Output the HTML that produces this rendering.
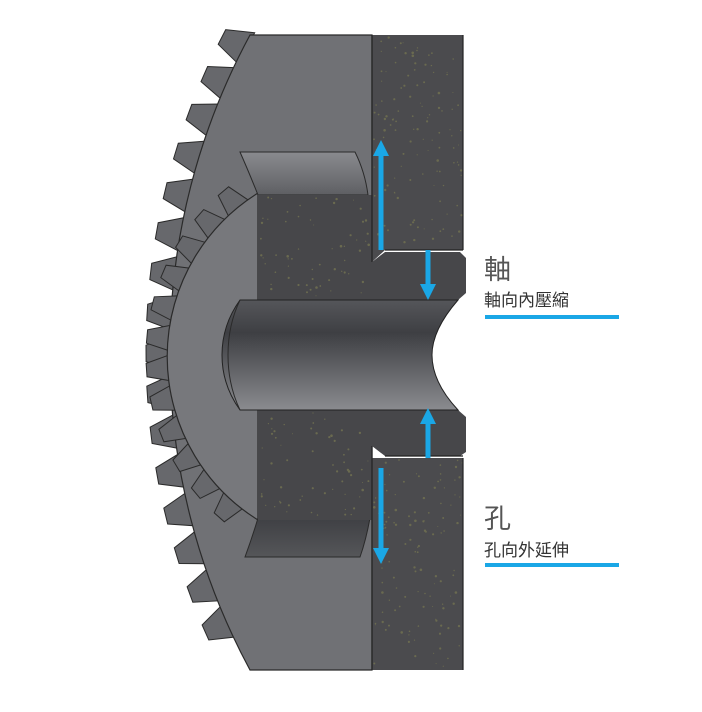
<!DOCTYPE html>
<html><head><meta charset="utf-8"><style>
html,body{margin:0;padding:0;background:#fff;width:702px;height:712px;overflow:hidden}
svg{display:block}
</style></head><body>
<svg id="s" width="702" height="712" viewBox="0 0 702 712" xmlns="http://www.w3.org/2000/svg">
<defs>
<linearGradient id="bore" x1="0" y1="0" x2="0" y2="1">
<stop offset="0" stop-color="#55565a"/><stop offset="0.3" stop-color="#3e3f43"/><stop offset="1" stop-color="#8a8b8f"/>
</linearGradient>
<linearGradient id="capT" x1="0" y1="0" x2="0" y2="1">
<stop offset="0" stop-color="#8a8b8f"/><stop offset="1" stop-color="#5e5f63"/>
</linearGradient>
<linearGradient id="capB" x1="0" y1="0" x2="0" y2="1">
<stop offset="0" stop-color="#3f4044"/><stop offset="1" stop-color="#555659"/>
</linearGradient>
</defs>
<g id="teeth"></g>
<!-- big disk -->
<path d="M250,35 A668,668 0 0 0 250,670 L372,670 L372,35 Z" fill="#707175" stroke="#2a2a2a" stroke-width="1.2"/>
<g id="teeth2"></g>
<!-- hub face -->
<path d="M258,193 A192.6,192.6 0 0 0 258,520 Z" fill="#77787c" stroke="#2a2a2a" stroke-width="1.2"/>
<!-- caps -->
<path d="M240,152 L355,152 Q365,172 368,195 L258,195 Q248,170 240,152 Z" fill="url(#capT)" stroke="#2a2a2a"/>
<path d="M258,518 L370,518 Q366,540 360,557 L245,557 Q252,538 258,518 Z" fill="url(#capB)" stroke="#2a2a2a"/>
<!-- dark hole body -->
<g>
<path d="M372,35 L463,35 L463,250 L385,250 L372,262 Z" fill="#4b4b4e"/>
<path d="M372,458 L385,458 L463,458 L463,670 L372,670 Z" fill="#4b4b4e"/>
<path d="M258,195 L372,195 L372,262 L385,252 L460,252 L466,258 L466,293 L458,300 L258,300 Z" fill="#47474a"/>
<path d="M258,410 L458,410 L466,417 L466,452 L460,456 L385,456 L372,446 L372,520 L258,520 Z" fill="#47474a"/>
</g>
<g id="dots" fill="#6a6a50"></g>
<path d="M372,35 L372,262 M372,446 L372,670 M463,35 L463,250 M463,458 L463,670 M385,250 L463,250 M385,456 L463,456" stroke="#222" stroke-width="1.2" fill="none"/>
<!-- bore -->
<path d="M240,300 L458,300 Q432,330 432,355 Q432,382 458,410 L240,410 Q222,385 222,355 Q222,325 240,300 Z" fill="url(#bore)" stroke="#222"/>
<path d="M240,300 Q228,325 228,355 Q228,385 240,410" fill="none" stroke="#2a2a2a"/>
<!-- arrows -->
<g fill="#1aa7e6" stroke="none">
<rect x="378.5" y="155" width="5" height="95"/><polygon points="373,156 381,140 389,156"/>
<rect x="425.5" y="250" width="5" height="36"/><polygon points="420,284 428,300 436,284"/>
<rect x="425.5" y="422" width="5" height="36"/><polygon points="420,424 428,408 436,424"/>
<rect x="378.5" y="468" width="5" height="82"/><polygon points="373,548 381,564 389,548"/>
</g>
<!-- labels -->
<g font-family="Liberation Sans, Noto Sans CJK TC, sans-serif" fill="#333">
<text x="484" y="279" font-size="27" fill="#555">軸</text>
<text x="484" y="306" font-size="17">軸向內壓縮</text>
<text x="484" y="528" font-size="27" fill="#555">孔</text>
<text x="484" y="556" font-size="17">孔向外延伸</text>
</g>
<rect x="485" y="315" width="134" height="4" fill="#1aa7e6"/>
<rect x="485" y="563" width="134" height="4" fill="#1aa7e6"/>
</svg>
<script>
(function(){
var ns="http://www.w3.org/2000/svg";
function gear(gid,cx,cy,R,h,a0,a1,step){
 var g=document.getElementById(gid);
 for(var a=a0;a<=a1;a+=step){
  var w=step*0.5;
  var p=[];
  [[a-w,R-3],[a-w*0.45,R+h],[a+w*0.35,R+h],[a+w*0.8,R-3]].forEach(function(q){
   var t=q[0]*Math.PI/180;p.push((cx-q[1]*Math.cos(t)).toFixed(1)+","+(cy+q[1]*Math.sin(t)).toFixed(1));});
  var pl=document.createElementNS(ns,"polygon");
  pl.setAttribute("points",p.join(" "));
  pl.setAttribute("fill","#67686c");pl.setAttribute("stroke","#2a2a2a");pl.setAttribute("stroke-width","1");
  g.appendChild(pl);
 }
}
gear("teeth",838,352,668,24,-27,27,3.4);
gear("teeth2",360.6,356,192.6,22,-50,50,9);
var d=document.getElementById("dots"),s=7;
function rnd(){s=(s*9301+49297)%233280;return s/233280;}
function fill(x0,y0,w,h,n){for(var i=0;i<n;i++){var c=document.createElementNS(ns,"circle");
c.setAttribute("cx",(x0+rnd()*w).toFixed(1));c.setAttribute("cy",(y0+rnd()*h).toFixed(1));c.setAttribute("r",(0.5+rnd()*0.8).toFixed(1));d.appendChild(c);}}
fill(374,37,88,210,120);fill(374,460,88,208,120);fill(260,197,110,100,60);fill(260,412,110,106,60);
})();
</script>
</body></html>
